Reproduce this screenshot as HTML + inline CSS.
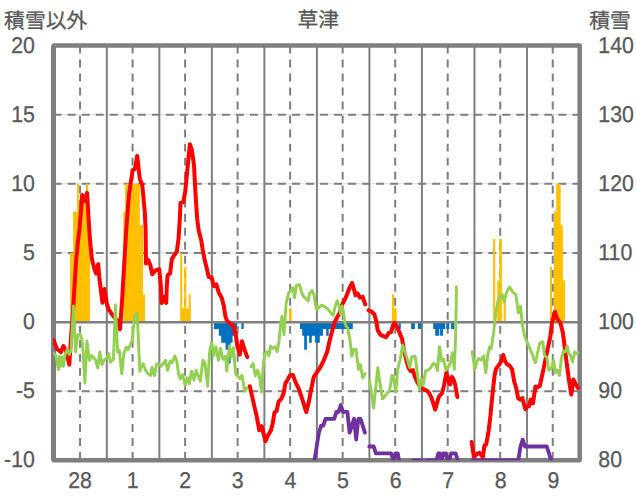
<!DOCTYPE html><html><head><meta charset="utf-8"><title>草津</title><style>html,body{margin:0;padding:0;background:#fff}svg{display:block}text{text-rendering:geometricPrecision;stroke:#595959;stroke-width:0.3px;font-family:"Liberation Sans","Noto Sans CJK JP",sans-serif;fill:#595959}</style></head><body>
<svg width="636" height="501" viewBox="0 0 636 501">
<rect width="636" height="501" fill="#fff"/>
<defs><clipPath id="pa"><rect x="53.1" y="45.5" width="526.6" height="414.8"/></clipPath></defs>
<line x1="53.7" y1="114.63" x2="579.7" y2="114.63" stroke="#d9d9d9" stroke-width="1"/>
<line x1="53.7" y1="183.77" x2="579.7" y2="183.77" stroke="#d9d9d9" stroke-width="1"/>
<line x1="53.7" y1="252.90" x2="579.7" y2="252.90" stroke="#d9d9d9" stroke-width="1"/>
<line x1="53.7" y1="322.03" x2="579.7" y2="322.03" stroke="#d9d9d9" stroke-width="1"/>
<line x1="53.7" y1="391.17" x2="579.7" y2="391.17" stroke="#d9d9d9" stroke-width="1"/>
<line x1="53.7" y1="114.63" x2="579.7" y2="114.63" stroke="#7f7f7f" stroke-width="2" stroke-dasharray="7.9 6.12" stroke-dashoffset="0.0"/>
<line x1="53.7" y1="183.77" x2="579.7" y2="183.77" stroke="#7f7f7f" stroke-width="2" stroke-dasharray="7.9 6.12" stroke-dashoffset="0.0"/>
<line x1="53.7" y1="252.90" x2="579.7" y2="252.90" stroke="#7f7f7f" stroke-width="2" stroke-dasharray="7.9 6.12" stroke-dashoffset="0.0"/>
<line x1="53.7" y1="391.17" x2="579.7" y2="391.17" stroke="#7f7f7f" stroke-width="2" stroke-dasharray="7.9 6.12" stroke-dashoffset="0.0"/>
<line x1="106.82" y1="45.5" x2="106.82" y2="460.3" stroke="#7f7f7f" stroke-width="2"/>
<line x1="159.34" y1="45.5" x2="159.34" y2="460.3" stroke="#7f7f7f" stroke-width="2"/>
<line x1="211.86" y1="45.5" x2="211.86" y2="460.3" stroke="#7f7f7f" stroke-width="2"/>
<line x1="264.38" y1="45.5" x2="264.38" y2="460.3" stroke="#7f7f7f" stroke-width="2"/>
<line x1="316.90" y1="45.5" x2="316.90" y2="460.3" stroke="#7f7f7f" stroke-width="2"/>
<line x1="369.42" y1="45.5" x2="369.42" y2="460.3" stroke="#7f7f7f" stroke-width="2"/>
<line x1="421.94" y1="45.5" x2="421.94" y2="460.3" stroke="#7f7f7f" stroke-width="2"/>
<line x1="474.46" y1="45.5" x2="474.46" y2="460.3" stroke="#7f7f7f" stroke-width="2"/>
<line x1="526.98" y1="45.5" x2="526.98" y2="460.3" stroke="#7f7f7f" stroke-width="2"/>
<line x1="80.06" y1="45.5" x2="80.06" y2="460.3" stroke="#7f7f7f" stroke-width="2" stroke-dasharray="7.9 6.12"/>
<line x1="132.58" y1="45.5" x2="132.58" y2="460.3" stroke="#7f7f7f" stroke-width="2" stroke-dasharray="7.9 6.12"/>
<line x1="185.10" y1="45.5" x2="185.10" y2="460.3" stroke="#7f7f7f" stroke-width="2" stroke-dasharray="7.9 6.12"/>
<line x1="237.62" y1="45.5" x2="237.62" y2="460.3" stroke="#7f7f7f" stroke-width="2" stroke-dasharray="7.9 6.12"/>
<line x1="290.14" y1="45.5" x2="290.14" y2="460.3" stroke="#7f7f7f" stroke-width="2" stroke-dasharray="7.9 6.12"/>
<line x1="342.66" y1="45.5" x2="342.66" y2="460.3" stroke="#7f7f7f" stroke-width="2" stroke-dasharray="7.9 6.12"/>
<line x1="395.18" y1="45.5" x2="395.18" y2="460.3" stroke="#7f7f7f" stroke-width="2" stroke-dasharray="7.9 6.12"/>
<line x1="447.70" y1="45.5" x2="447.70" y2="460.3" stroke="#7f7f7f" stroke-width="2" stroke-dasharray="7.9 6.12"/>
<line x1="500.22" y1="45.5" x2="500.22" y2="460.3" stroke="#7f7f7f" stroke-width="2" stroke-dasharray="7.9 6.12"/>
<line x1="552.74" y1="45.5" x2="552.74" y2="460.3" stroke="#7f7f7f" stroke-width="2" stroke-dasharray="7.9 6.12"/>
<rect x="53.7" y="45.5" width="526.0" height="414.8" fill="none" stroke="#7f7f7f" stroke-width="4.5" stroke-linejoin="round"/>
<line x1="53.5" y1="45.5" x2="53.5" y2="460.3" stroke="#7f7f7f" stroke-width="5"/>
<g clip-path="url(#pa)">
<path d="M70.1,322.03 L70.1,252.90 L73.1,252.90 L73.1,211.42 L77.1,211.42 L77.1,183.77 L79.1,183.77 L79.1,211.42 L81.2,211.42 L81.2,204.51 L83.3,204.51 L83.3,203.12 L86.0,203.12 L86.0,183.77 L88.2,183.77 L88.2,232.16 L89.9,232.16 L89.9,322.03 Z" fill="#ffc000"/>
<path d="M123.3,322.03 L123.3,211.42 L125.2,211.42 L125.2,183.77 L139.8,183.77 L139.8,225.25 L143.0,225.25 L143.0,294.38 L145.0,294.38 L145.0,322.03 Z" fill="#ffc000"/>
<path d="M180.2,322.03 L180.2,252.90 L182.3,252.90 L182.3,308.21 L184.2,308.21 L184.2,266.73 L186.3,266.73 L186.3,308.21 L188.7,308.21 L188.7,294.38 L190.8,294.38 L190.8,322.03 Z" fill="#ffc000"/>
<path d="M289.0,322.03 L289.0,308.21 L291.7,308.21 L291.7,322.03 Z" fill="#ffc000"/>
<path d="M392.0,322.03 L392.0,294.38 L394.1,294.38 L394.1,308.21 L396.7,308.21 L396.7,322.03 Z" fill="#ffc000"/>
<path d="M493.1,322.03 L493.1,239.07 L495.2,239.07 L495.2,322.03 Z" fill="#ffc000"/>
<path d="M497.2,322.03 L497.2,280.55 L499.3,280.55 L499.3,239.07 L501.9,239.07 L501.9,322.03 Z" fill="#ffc000"/>
<path d="M503.6,322.03 L503.6,294.38 L505.8,294.38 L505.8,322.03 Z" fill="#ffc000"/>
<path d="M550.0,322.03 L550.0,266.73 L552.0,266.73 L552.0,322.03 Z" fill="#ffc000"/>
<path d="M554.0,322.03 L554.0,211.42 L556.2,211.42 L556.2,183.77 L560.7,183.77 L560.7,225.25 L562.9,225.25 L562.9,280.55 L565.1,280.55 L565.1,322.03 Z" fill="#ffc000"/>
<path d="M214.0,322.03 L214.0,328.95 L218.8,328.95 L218.8,335.86 L221.2,335.86 L221.2,342.77 L225.6,342.77 L225.6,349.69 L228.6,349.69 L228.6,363.51 L230.6,363.51 L230.6,342.77 L232.6,342.77 L232.6,335.86 L234.8,335.86 L234.8,328.95 L237.0,328.95 L237.0,322.03 Z" fill="#0070c0"/>
<path d="M241.4,322.03 L241.4,328.95 L243.7,328.95 L243.7,322.03 Z" fill="#0070c0"/>
<path d="M300.0,322.03 L300.0,328.95 L302.2,328.95 L302.2,335.86 L304.2,335.86 L304.2,349.69 L306.9,349.69 L306.9,335.86 L309.1,335.86 L309.1,342.77 L311.8,342.77 L311.8,335.86 L315.1,335.86 L315.1,342.77 L319.8,342.77 L319.8,335.86 L322.9,335.86 L322.9,328.95 L326.2,328.95 L326.2,335.86 L328.7,335.86 L328.7,328.95 L352.8,328.95 L352.8,322.03 Z" fill="#0070c0"/>
<path d="M398.5,322.03 L398.5,328.95 L400.8,328.95 L400.8,322.03 Z" fill="#0070c0"/>
<path d="M411.1,322.03 L411.1,328.95 L414.9,328.95 L414.9,322.03 Z" fill="#0070c0"/>
<path d="M417.9,322.03 L417.9,328.95 L421.2,328.95 L421.2,322.03 Z" fill="#0070c0"/>
<path d="M433.2,322.03 L433.2,328.95 L435.2,328.95 L435.2,335.86 L439.3,335.86 L439.3,328.95 L440.1,328.95 L440.1,335.86 L443.0,335.86 L443.0,328.95 L445.3,328.95 L445.3,322.03 Z" fill="#0070c0"/>
<path d="M446.3,322.03 L446.3,328.95 L449.3,328.95 L449.3,322.03 Z" fill="#0070c0"/>
<path d="M451.1,322.03 L451.1,328.95 L454.4,328.95 L454.4,322.03 Z" fill="#0070c0"/>
<line x1="53.7" y1="322.23" x2="579.7" y2="322.23" stroke="#7f7f7f" stroke-width="2.5"/>
<polyline points="53.7,340.3 56.7,348.7 60.9,352.0 63.4,346.1 65.9,350.3 67.6,357.0 69.3,364.6 71.0,338.0 72.9,313.0 76.0,262.0 77.9,242.0 79.5,229.0 81.1,210.0 82.2,195.0 84.6,201.0 87.1,192.8 88.1,210.0 89.2,229.0 90.2,242.0 91.9,259.2 94.5,269.3 96.1,273.5 98.2,264.2 99.5,279.3 102.4,302.7 104.5,289.0 107.0,304.5 108.7,309.5 111.2,313.2 114.6,317.6 117.1,320.1 120.0,329.4 122.1,300.0 126.3,229.0 128.9,195.3 132.6,170.2 135.0,168.8 137.2,155.9 139.8,178.6 142.3,185.3 144.8,212.1 145.6,229.0 146.0,263.4 148.2,260.0 150.3,265.0 152.2,274.3 155.3,270.5 159.2,269.3 160.9,286.1 161.6,303.0 163.8,297.0 166.2,303.0 166.8,286.1 167.6,275.2 170.1,273.5 171.8,259.3 174.3,255.1 176.8,251.7 178.5,239.1 179.8,219.0 180.5,203.0 183.2,202.1 185.2,192.0 187.8,165.2 189.9,144.2 191.9,150.1 194.0,165.2 195.3,190.4 196.6,210.5 197.2,219.0 198.7,230.7 201.2,240.0 202.9,250.9 204.5,259.3 207.0,269.3 208.7,276.9 211.7,277.7 213.8,286.1 216.3,284.4 218.8,292.8 221.3,297.0 222.1,299.2 223.8,305.9 225.5,316.8 227.2,321.0 230.5,323.6 233.4,326.1 235.6,333.6 237.2,345.4 239.8,354.6 241.9,341.2 244.8,350.4 247.3,357.1" fill="none" stroke="#ff0000" stroke-width="4" stroke-linejoin="round" stroke-linecap="round"/>
<polyline points="249.8,386.2 252.3,397.1 254.9,408.9 256.8,416.8 259.3,430.3 261.8,426.1 263.5,433.6 265.5,441.2 267.7,436.1 271.0,430.3 272.7,423.6 274.4,412.7 276.6,411.0 278.6,401.7 281.1,399.2 283.6,393.4 285.3,383.6 287.8,379.4 290.0,375.2 292.9,374.9 295.4,381.9 298.7,388.7 302.1,398.7 306.3,412.1 308.8,402.1 311.3,388.7 313.8,376.9 317.2,371.9 320.5,366.8 323.9,360.1 327.2,351.7 329.8,340.0 332.3,330.4 334.8,322.0 337.3,317.0 339.8,312.8 342.3,304.4 344.9,299.4 346.7,295.2 349.3,288.5 352.1,283.1 353.8,288.5 355.5,295.2 357.7,293.5 359.8,297.7 362.7,296.8 365.2,304.4" fill="none" stroke="#ff0000" stroke-width="4" stroke-linejoin="round" stroke-linecap="round"/>
<polyline points="368.6,310.3 371.6,311.6 374.4,314.5 376.1,320.3 377.8,330.4 380.3,334.6 383.7,336.3 386.2,337.1 388.7,332.9 391.2,332.1 392.9,325.4 394.6,322.9 397.1,327.0 399.6,332.9 402.1,338.8 403.8,350.1 406.3,360.1 408.8,368.5 410.5,371.0 413.0,370.2 414.7,376.1 417.2,381.9 419.7,386.1 422.2,388.7 426.4,390.3 429.0,392.9 431.5,397.9 435.2,409.6 437.5,401.2 439.2,396.2 441.7,393.7 443.7,387.0 446.4,372.7 448.4,380.3 450.1,384.5 451.8,376.9 453.5,379.4 455.1,384.5 457.3,397.0" fill="none" stroke="#ff0000" stroke-width="4" stroke-linejoin="round" stroke-linecap="round"/>
<polyline points="471.6,442.0 473.9,457.0 477.0,453.8 479.5,452.9 482.8,457.1 484.5,445.4 486.2,444.5 488.7,430.3 490.4,416.0 491.2,407.1 492.9,390.3 494.6,375.2 496.2,368.5 498.8,365.2 501.3,361.0 503.2,355.0 505.2,361.5 507.1,364.3 509.5,365.5 512.1,369.4 514.1,381.0 516.1,387.8 518.2,398.3 520.3,399.6 522.3,398.0 523.9,403.8 525.4,409.2 527.5,406.3 529.0,406.3 530.6,399.6 533.0,403.3 535.4,386.6 538.0,387.0 539.8,386.0 543.6,368.6 547.0,351.8 550.3,336.7 552.0,322.8 555.0,311.9 557.0,318.6 560.4,322.8 562.9,332.9 563.8,340.1 566.3,360.2 568.8,378.7 571.3,394.6 573.3,379.5 575.5,383.7 578.0,387.9" fill="none" stroke="#ff0000" stroke-width="4" stroke-linejoin="round" stroke-linecap="round"/>
<polyline points="314.5,460.3 316.7,446.5 318.9,432.6 321.1,425.7 323.3,425.7 325.5,418.8 327.7,418.8 329.9,418.8 332.0,418.8 334.2,418.8 336.4,411.9 338.6,411.9 340.8,405.0 343.0,411.9 345.2,411.9 347.4,411.9 349.6,432.6 351.8,425.7 354.0,418.8 356.2,439.6 358.3,418.8 360.5,418.8 362.7,425.7 364.9,432.6" fill="none" stroke="#7030a0" stroke-width="3.8" stroke-linejoin="round" stroke-linecap="round"/>
<polyline points="369.3,446.5 371.5,446.5 373.7,446.5 375.9,453.4 378.1,453.4 380.3,453.4 382.5,453.4 384.6,453.4 386.8,453.4 389.0,453.4 391.2,453.4 393.4,460.3 395.6,453.4 397.8,453.4 400.0,467.2" fill="none" stroke="#7030a0" stroke-width="3.8" stroke-linejoin="round" stroke-linecap="round"/>
<polyline points="413.1,460.3 415.3,460.3 417.5,460.3 419.7,460.3 421.9,460.3 424.1,467.2 426.3,460.3 428.5,460.3 430.7,460.3 432.9,460.3 436.4,460.3 438.3,453.4 439.8,453.4 441.6,460.3 443.3,453.4 445.7,453.4 447.7,460.3 449.4,460.3 451.1,453.4 455.6,453.4 458.6,463.8" fill="none" stroke="#7030a0" stroke-width="3.8" stroke-linejoin="round" stroke-linecap="round"/>
<polyline points="472.3,460.3 474.5,460.3 476.7,460.3 478.9,460.3 481.1,460.3 483.3,460.3 485.5,460.3 487.7,460.3 489.8,460.3 492.0,460.3 494.2,460.3 496.4,460.3 498.6,460.3 500.8,460.3 503.0,460.3 505.2,460.3 507.4,460.3 509.6,460.3 511.8,460.3 514.0,460.3 516.1,460.3 518.3,460.3 520.5,446.5 522.7,439.6 524.9,446.5 527.1,446.5 529.3,446.5 531.5,446.5 533.7,446.5 535.9,446.5 538.1,446.5 540.3,446.5 542.4,446.5 544.6,446.5 546.8,446.5 549.0,453.4 551.2,460.3" fill="none" stroke="#7030a0" stroke-width="3.8" stroke-linejoin="round" stroke-linecap="round"/>
<polyline points="53.7,353.4 55.9,355.4 58.4,369.6 59.6,356.2 60.9,366.3 62.1,357.0 63.4,366.3 65.1,354.5 67.3,349.5 69.3,354.5 71.0,350.3 73.5,305.9 75.5,352.0 77.7,335.2 79.9,333.6 81.9,339.4 83.1,352.0 84.9,383.1 86.9,341.1 89.4,360.4 91.6,355.4 94.0,357.9 95.6,360.4 97.8,368.0 99.8,352.0 102.0,364.6 104.5,359.6 107.0,357.9 108.7,353.7 110.4,362.1 113.4,359.6 115.4,305.0 117.6,352.0 119.3,350.3 121.8,373.8 123.8,353.7 126.3,347.0 128.0,349.5 129.7,346.1 132.2,340.3 134.7,315.9 137.2,313.4 139.8,371.3 141.4,367.1 143.1,363.8 145.6,370.5 148.2,373.8 150.7,375.5 152.0,367.1 154.5,375.7 156.4,364.4 158.4,363.6 160.9,366.1 163.4,363.6 165.4,360.2 167.6,370.3 170.1,361.0 172.1,362.7 174.8,356.0 176.8,361.0 178.5,373.6 180.2,378.7 182.7,374.5 185.2,385.4 187.2,377.8 189.4,383.7 191.6,371.1 194.0,380.3 196.1,370.3 198.7,377.0 200.3,381.2 202.9,360.2 205.0,363.6 207.6,386.2 209.6,351.8 211.6,342.6 213.8,355.2 215.8,346.8 218.5,360.2 220.5,348.5 223.0,359.4 225.5,356.0 226.8,371.1 229.4,345.9 231.4,356.8 233.4,347.6 235.6,373.6 238.1,377.0 239.8,378.7 241.9,375.3 244.8,391.2 247.0,387.9" fill="none" stroke="#92d050" stroke-width="2.9" stroke-linejoin="round" stroke-linecap="round"/>
<polyline points="250.9,366.8 253.1,363.5 255.4,376.1 257.6,370.2 259.3,375.2 261.5,392.0 263.5,361.8 265.2,353.4 267.7,351.7 268.9,355.9 270.5,345.9 272.7,348.4 275.2,346.7 277.2,351.7 279.0,341.7 280.3,327.0 281.9,316.1 284.0,334.6 286.1,303.6 288.7,292.7 291.2,290.1 292.9,287.6 294.5,297.7 296.5,285.1 299.6,284.8 301.6,292.7 303.8,296.8 305.8,298.5 308.0,301.0 309.6,293.5 312.1,290.5 313.8,294.3 315.5,304.4 316.8,309.9 318.9,307.8 321.4,305.2 323.9,306.1 326.4,307.8 328.9,310.3 331.4,313.6 333.1,315.3 335.3,306.0 337.2,300.7 339.1,306.1 340.6,313.6 342.2,306.0 343.4,311.9 345.2,324.5 347.6,327.9 350.1,340.5 351.8,356.0 353.8,349.2 356.0,349.2 358.5,369.4 360.2,364.3 362.7,377.8 365.2,373.6" fill="none" stroke="#92d050" stroke-width="2.9" stroke-linejoin="round" stroke-linecap="round"/>
<polyline points="369.4,380.3 371.6,393.7 373.6,408.0 375.8,387.0 377.8,367.7 380.0,383.6 382.5,398.7 384.8,396.2 387.3,392.9 389.5,391.2 392.0,375.2 393.7,377.8 395.7,392.0 397.9,368.5 400.4,358.5 402.6,345.0 404.6,351.7 407.1,358.5 409.7,367.7 411.8,356.8 415.2,356.4 417.2,371.9 419.4,389.5 421.4,379.4 423.1,385.3 425.6,371.0 428.1,370.2 430.6,367.7 433.2,363.5 435.7,364.3 437.5,370.6 439.5,346.7 441.7,361.0 443.7,359.3 445.9,370.2 448.4,366.8 450.6,361.8 452.6,352.6 454.3,369.4 455.5,340.0 456.5,286.8" fill="none" stroke="#92d050" stroke-width="2.9" stroke-linejoin="round" stroke-linecap="round"/>
<polyline points="472.2,351.7 474.8,369.4 476.9,361.8 478.6,358.5 481.1,360.1 483.7,355.9 485.8,372.7 487.9,354.3 489.5,347.0 491.2,348.6 493.7,332.1 495.7,313.6 497.9,301.0 500.1,296.0 502.1,294.6 504.2,301.8 506.5,292.5 509.6,287.0 512.4,291.4 515.9,295.0 518.4,312.8 520.5,306.5 522.5,325.8 525.0,337.4 528.5,345.1 531.9,353.5 535.4,362.7 537.6,352.7 539.6,343.4 542.8,341.7 544.5,355.2 547.0,357.7 548.7,370.3 551.2,368.6 553.7,360.2 555.4,372.8 557.4,370.3 559.6,375.3 561.2,359.4 563.4,351.0 565.4,351.8 567.1,345.9 568.8,353.5 570.5,355.2 572.5,361.9 574.7,351.8 576.3,353.5 578.0,352.7" fill="none" stroke="#92d050" stroke-width="2.9" stroke-linejoin="round" stroke-linecap="round"/>
</g>
<text transform="translate(34.90,52.90) scale(0.935,1.0)" font-size="22.8" text-anchor="end">20</text>
<text transform="translate(34.90,121.89) scale(0.935,1.0)" font-size="22.8" text-anchor="end">15</text>
<text transform="translate(34.90,190.88) scale(0.935,1.0)" font-size="22.8" text-anchor="end">10</text>
<text transform="translate(34.90,259.88) scale(0.935,1.0)" font-size="22.8" text-anchor="end">5</text>
<text transform="translate(34.90,328.87) scale(0.935,1.0)" font-size="22.8" text-anchor="end">0</text>
<text transform="translate(34.90,397.86) scale(0.935,1.0)" font-size="22.8" text-anchor="end">-5</text>
<text transform="translate(34.90,466.85) scale(0.935,1.0)" font-size="22.8" text-anchor="end">-10</text>
<text transform="translate(598.30,52.90) scale(0.935,1.0)" font-size="22.8" text-anchor="start">140</text>
<text transform="translate(598.30,121.89) scale(0.935,1.0)" font-size="22.8" text-anchor="start">130</text>
<text transform="translate(598.30,190.88) scale(0.935,1.0)" font-size="22.8" text-anchor="start">120</text>
<text transform="translate(598.30,259.88) scale(0.935,1.0)" font-size="22.8" text-anchor="start">110</text>
<text transform="translate(598.30,328.87) scale(0.935,1.0)" font-size="22.8" text-anchor="start">100</text>
<text transform="translate(598.30,397.86) scale(0.935,1.0)" font-size="22.8" text-anchor="start">90</text>
<text transform="translate(598.30,466.85) scale(0.935,1.0)" font-size="22.8" text-anchor="start">80</text>
<text transform="translate(80.00,487.90) scale(0.935,1.0)" font-size="22.8" text-anchor="middle">28</text>
<text transform="translate(132.60,487.90) scale(0.935,1.0)" font-size="22.8" text-anchor="middle">1</text>
<text transform="translate(185.20,487.90) scale(0.935,1.0)" font-size="22.8" text-anchor="middle">2</text>
<text transform="translate(237.80,487.90) scale(0.935,1.0)" font-size="22.8" text-anchor="middle">3</text>
<text transform="translate(290.40,487.90) scale(0.935,1.0)" font-size="22.8" text-anchor="middle">4</text>
<text transform="translate(343.00,487.90) scale(0.935,1.0)" font-size="22.8" text-anchor="middle">5</text>
<text transform="translate(395.60,487.90) scale(0.935,1.0)" font-size="22.8" text-anchor="middle">6</text>
<text transform="translate(448.20,487.90) scale(0.935,1.0)" font-size="22.8" text-anchor="middle">7</text>
<text transform="translate(500.80,487.90) scale(0.935,1.0)" font-size="22.8" text-anchor="middle">8</text>
<text transform="translate(553.40,487.90) scale(0.935,1.0)" font-size="22.8" text-anchor="middle">9</text>
<text transform="translate(4.10,27.60) scale(1.0,1.0)" font-size="20.8" text-anchor="start">積雪以外</text>
<text transform="translate(318.20,26.70) scale(1.0,1.0)" font-size="20.8" text-anchor="middle">草津</text>
<text transform="translate(589.20,27.60) scale(1.0,1.0)" font-size="20.8" text-anchor="start">積雪</text>
</svg></body></html>
